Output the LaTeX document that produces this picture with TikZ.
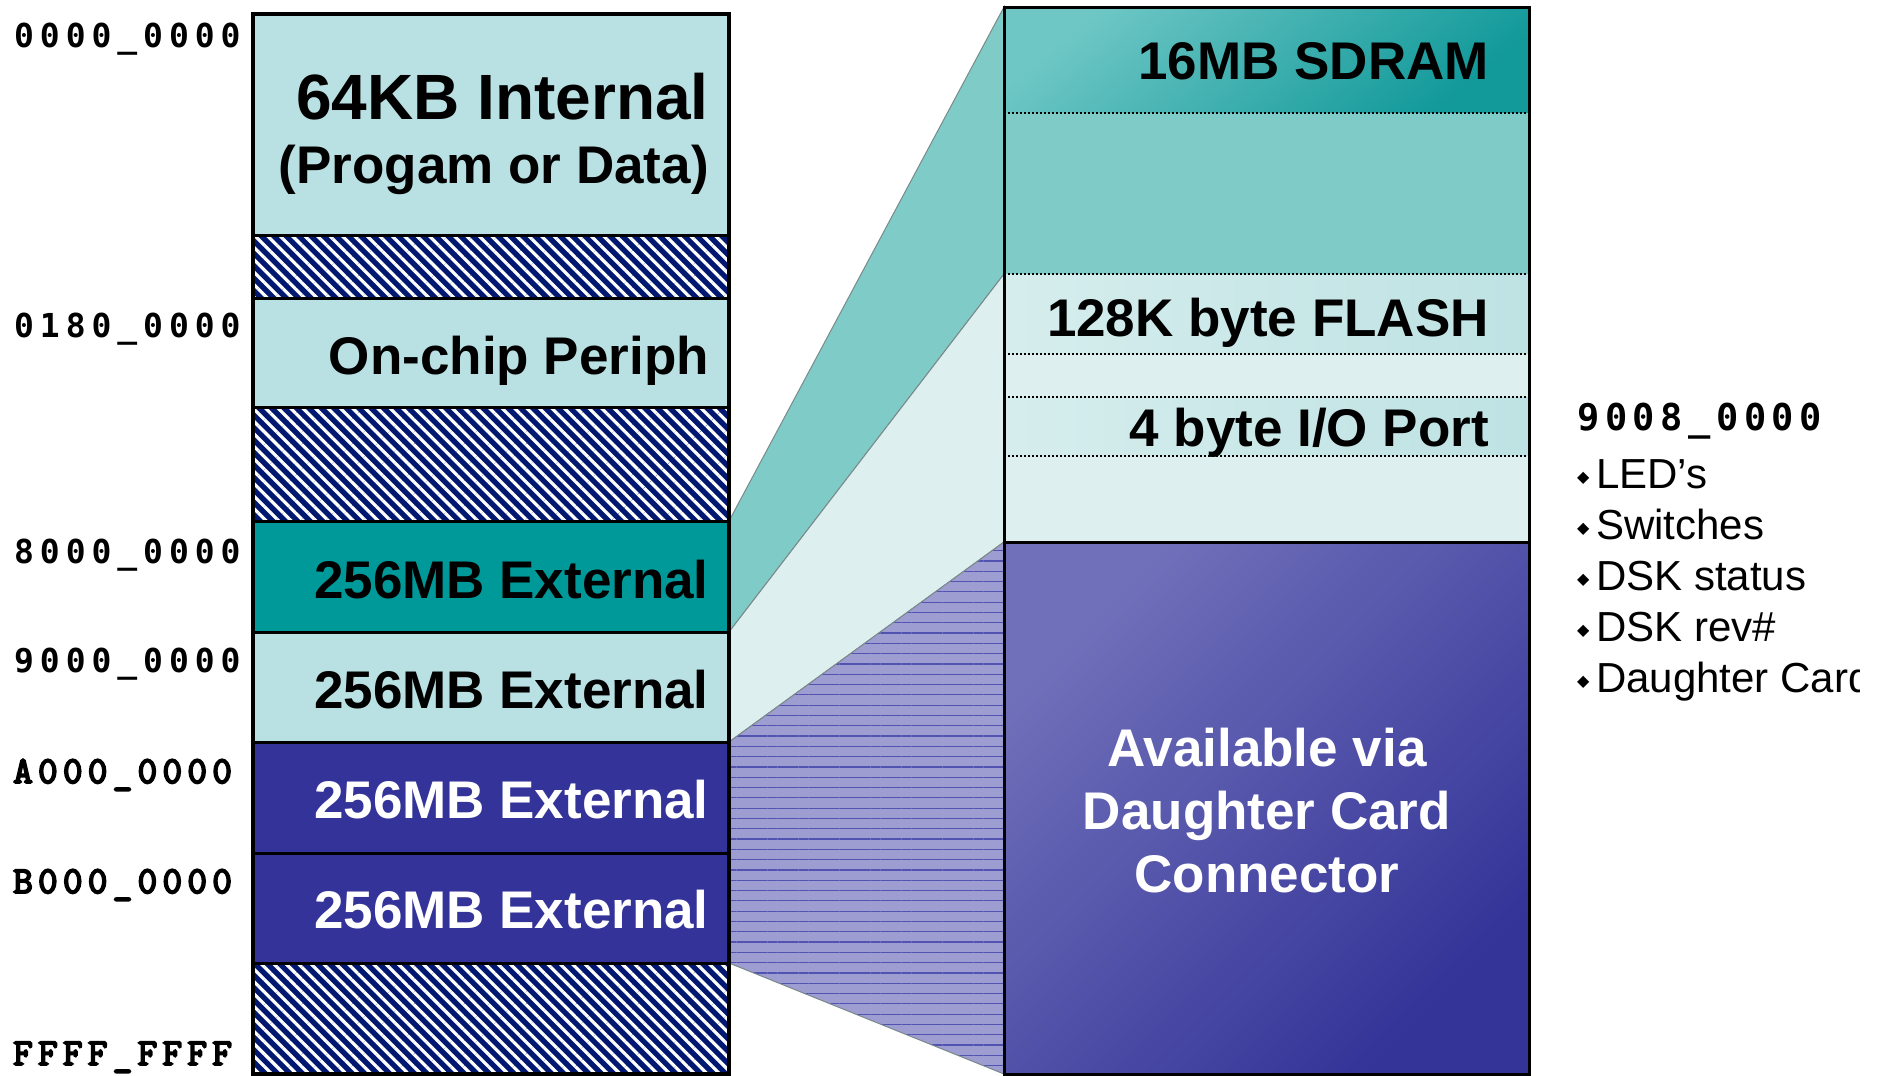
\documentclass[tikz,border=0pt]{standalone}
\usepackage{fontspec}
\setmainfont{Liberation Sans}
\newfontfamily\addrfont[LetterSpace=18]{DejaVu Sans Mono}
\newfontfamily\wideaddrfont[LetterSpace=15]{DejaVu Sans Mono}
\newfontfamily\courfont[FakeBold=5,LetterSpace=14]{Latin Modern Mono}
\newfontfamily\symfont{DejaVu Sans}
\usetikzlibrary{patterns.meta,backgrounds}

\definecolor{lightblk}{HTML}{B9E0E2}
\definecolor{tealblk}{HTML}{009999}
\definecolor{blueblk}{HTML}{333399}
\definecolor{navy}{HTML}{00186F}
\definecolor{tealtrap}{HTML}{7ECBC7}
\definecolor{palecyan}{HTML}{DDEFEF}
\definecolor{lavender}{HTML}{9D9DD2}
\definecolor{lavline}{HTML}{5252B0}
\definecolor{trapline}{HTML}{7A8A8A}
\definecolor{sdramtop}{HTML}{6EC7C5}
\definecolor{sdrambot}{HTML}{12999A}
\definecolor{flashL}{HTML}{D6EDED}
\definecolor{flashR}{HTML}{BEE2E3}
\definecolor{dctop}{HTML}{7070BA}
\definecolor{dcbot}{HTML}{333398}

\tikzset{
  lblk/.style={rectangle, draw=black, line width=3pt, inner sep=0pt, outer sep=0pt,
    anchor=north west, minimum width=476pt},
  rblk/.style={rectangle, inner sep=0pt, outer sep=0pt, anchor=north west, minimum width=525pt},
  hatch/.style={preaction={fill=navy},
    pattern={Lines[angle=-45,distance=8.8pt,line width=3.2pt]}, pattern color=white},
  bigtext/.style={inner sep=0pt, font=\bfseries\fontsize{53}{53}\selectfont},
  addr/.style={inner sep=0pt, anchor=base west, font=\addrfont\bfseries\fontsize{33}{33}\selectfont},
  caddr/.style={inner sep=0pt, anchor=base west, font=\courfont\fontsize{38}{38}\selectfont},
  itemtext/.style={inner sep=0pt, anchor=base west, font=\fontsize{42}{42}\selectfont},
  trapedge/.style={draw=trapline, line width=1pt},
  dotline/.style={line width=1.6pt, dash pattern=on 1.6pt off 2.4pt},
}

\newcommand{\bul}{\makebox[19pt][l]{\raisebox{6pt}{\symfont\fontsize{16}{16}\selectfont ◆}}}

\begin{document}
\begin{tikzpicture}[x=1pt,y=-1pt]
\useasboundingbox (0,0) rectangle (1883,1076);

% ---- memory map column ----
\node[lblk, fill=lightblk, minimum height=221pt] (int)    at (253,14)  {};
\node[lblk, hatch,         minimum height=63pt]  (hatchA) at (253,235) {};
\node[lblk, fill=lightblk, minimum height=109pt] (periph) at (253,298) {};
\node[lblk, hatch,         minimum height=114pt] (hatchB) at (253,407) {};
\node[lblk, fill=tealblk,  minimum height=111pt] (extA)   at (253,521) {};
\node[lblk, fill=lightblk, minimum height=110pt] (extB)   at (253,632) {};
\node[lblk, fill=blueblk,  minimum height=111pt] (extC)   at (253,742) {};
\node[lblk, fill=blueblk,  minimum height=110pt] (extD)   at (253,853) {};
\node[lblk, hatch,         minimum height=111pt] (hatchC) at (253,963) {};
\draw[line width=4.5pt] (int.north west) rectangle (hatchC.south east);

% ---- expanded CE spaces ----
\node[rblk, top color=sdramtop, bottom color=sdrambot, shading angle=40,
      minimum height=106pt] (sdram)  at (1004,7)   {};
\node[rblk, fill=tealtrap, minimum height=161pt] (sdramb) at (1004,113) {};
\node[rblk, left color=flashL, right color=flashR, minimum height=80pt] (flash) at (1004,274) {};
\node[rblk, fill=palecyan, minimum height=43pt]  (gap)    at (1004,354) {};
\node[rblk, left color=flashL, right color=flashR, minimum height=59pt] (io) at (1004,397) {};
\node[rblk, fill=palecyan, minimum height=86pt]  (gap2)   at (1004,456) {};
\node[rblk, top color=dctop, bottom color=dcbot, shading angle=45,
      minimum height=532pt] (dc) at (1004,542) {};

\foreach \n in {sdram,sdramb,flash,gap,io}
  \draw[dotline] (\n.south west) -- (\n.south east);
\draw[line width=3pt] (dc.north west) -- (dc.north east);
\draw[line width=3pt] (sdram.north west) rectangle (dc.south east);

% ---- fans from the map to the expanded view ----
\begin{pgfonlayer}{background}
\path[trapedge, fill=tealtrap]
  (extA.north east) -- (sdram.north west) -- (sdramb.south west) -- (extA.south east) -- cycle;
\path[trapedge, fill=palecyan]
  (extA.south east) -- (sdramb.south west) -- (gap2.south west) -- (extB.south east) -- cycle;
\path[trapedge, preaction={fill=lavender},
      pattern={Lines[distance=10.3pt,line width=1.2pt]}, pattern color=lavline]
  (extB.south east) -- (dc.north west) -- (dc.south west) -- (extD.south east) -- cycle;
\end{pgfonlayer}

% ---- block labels ----
\node[bigtext, anchor=base east, font=\bfseries\fontsize{64}{64}\selectfont] (t64) at (709,119) {64KB Internal};
\node[bigtext, anchor=base east] (tprog)   at (709,183) {(Progam or Data)};
\node[bigtext, anchor=base east] (tperiph) at (709,374) {On-chip Periph};
\node[bigtext, anchor=base east] (textA)   at (709,598) {256MB External};
\node[bigtext, anchor=base east] (textB)   at (709,708) {256MB External};
\node[bigtext, anchor=base east, text=white] (textC) at (709,818) {256MB External};
\node[bigtext, anchor=base east, text=white] (textD) at (709,928) {256MB External};

\node[bigtext, anchor=base east] (tsdram) at (1489,79)  {16MB SDRAM};
\node[bigtext, anchor=base east] (tflash) at (1489,336) {128K byte FLASH};
\node[bigtext, anchor=base east] (tio)    at (1489,446) {4 byte I/O Port};
\node[bigtext, align=center, text=white, font=\bfseries\fontsize{53}{63}\selectfont]
  (tdc) at (1267,811) {Available via\\Daughter Card\\Connector};

% ---- addresses ----
\node[addr]  (a0) at (14,47)   {0000\_0000};
\node[addr]  (a1) at (14,337)  {0180\_0000};
\node[addr]  (a8) at (14,563)  {8000\_0000};
\node[addr]  (a9) at (14,672)  {9000\_0000};
\node[caddr] (aA) at (13,783)  {A000\_0000};
\node[caddr] (aB) at (13,893)  {B000\_0000};
\node[caddr] (aF) at (13,1065) {FFFF\_FFFF};

% ---- I/O port contents (text box clipped on its right side) ----
\node[inner sep=0pt, anchor=base west, font=\wideaddrfont\bfseries\fontsize{37}{37}\selectfont]
  (aio) at (1577,430) {9008\_0000};
\begin{scope}
  \clip (1560,440) rectangle (1859,720);
  \foreach \t [count=\i] in {LED’s, Switches, DSK status, DSK rev\#, Daughter Card}
    \node[itemtext] (item\i) at (1577,{488+51*(\i-1)}) {\bul\t};
\end{scope}

\end{tikzpicture}
\end{document}
